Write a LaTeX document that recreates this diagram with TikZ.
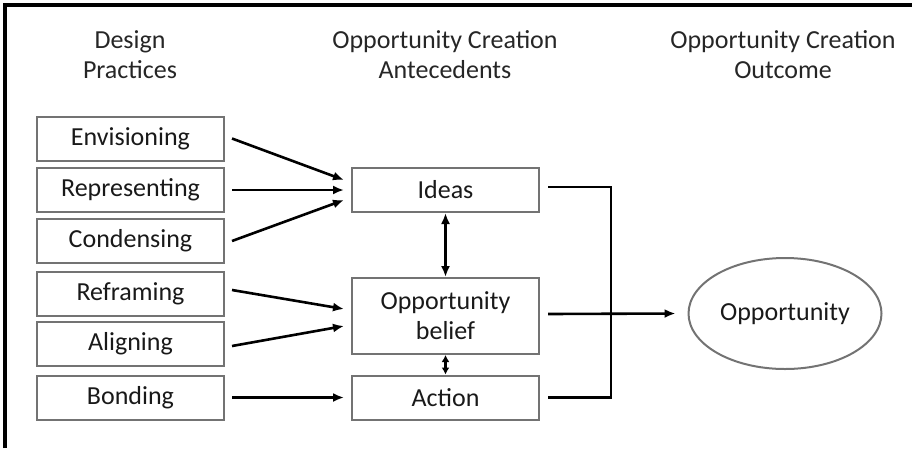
\documentclass[tikz,border=0pt]{standalone}
\usepackage{fontspec}
\setmainfont{Carlito}
\usetikzlibrary{arrows.meta,shapes.geometric}
\begin{document}
\begin{tikzpicture}[x=1pt,y=-1pt,font=\fontsize{26}{30}\selectfont,line join=miter,
	>={Latex[length=11pt,width=9pt]},
	practice/.style={draw=black!55,line width=2pt,minimum width=187pt,minimum height=44pt,inner sep=0pt,text=black!90},
	antecedent/.style={practice,align=center},
	heading/.style={align=center,text=black!85},
	link/.style={line width=2.6pt,black}]
			\useasboundingbox (0,0) rectangle (912,448);
			\draw[line width=3.4pt] (5,448) -- (5,5) -- (912,5);
			
			\node[heading] (hdA) at (130,55) {Design\\Practices};
			\node[heading] (hdB) at (445,55) {Opportunity Creation\\Antecedents};
			\node[heading] (hdC) at (783,55) {Opportunity Creation\\Outcome};
			
			\node[practice] (env) at (130.5,138.5) {Envisioning};
			\node[practice] (rep) at (130.5,190) {Representing};
			\node[practice] (con) at (130.5,241) {Condensing};
			\node[practice] (ref) at (130.5,294) {Reframing};
			\node[practice] (ali) at (130.5,344) {Aligning};
			\node[practice] (bon) at (130.5,397.5) {Bonding};
			
			\node[antecedent] (ideas) at (445.5,190) {Ideas};
			\node[antecedent,minimum height=76pt] (belief) at (445.5,316) {Opportunity\\belief};
			\node[antecedent] (act) at (445.5,397.5) {Action};
			
			\node[ellipse,draw=black!55,line width=2pt,minimum width=186pt,minimum height=111pt,text=black!90] (opp) at (785,313.5) {Opportunity};
			
			\draw[link,->] ([xshift=7pt]env.east) -- ([xshift=-7pt,yshift=10pt]ideas.west);
			\draw[link,->] ([xshift=7pt]rep.east) -- ([xshift=-7pt]ideas.west);
			\draw[link,->] ([xshift=7pt]con.east) -- ([xshift=-7pt,yshift=-10pt]ideas.west);
			\draw[link,->] ([xshift=7pt,yshift=4pt]ref.east) -- ([xshift=-7pt,yshift=7pt]belief.west);
			\draw[link,->] ([xshift=7pt,yshift=-2pt]ali.east) -- ([xshift=-7pt,yshift=-10pt]belief.west);
			\draw[link,->] ([xshift=7pt]bon.east) -- ([xshift=-7pt]act.west);
			
			\draw[link,<->] (ideas.south) -- (belief.north);
			\draw[link,{Latex[length=7pt,width=8pt]}-{Latex[length=7pt,width=8pt]}] (belief.south) -- (act.north);
			
			\coordinate (join) at (611,190);
			\draw[link] ([xshift=8pt,yshift=3pt]ideas.east) -| (join) |- ([xshift=8pt]act.east);
			\draw[link,->] ([xshift=8pt,yshift=2pt]belief.east) -- ([xshift=-12pt]opp.west);
		\end{tikzpicture}
\end{document}
